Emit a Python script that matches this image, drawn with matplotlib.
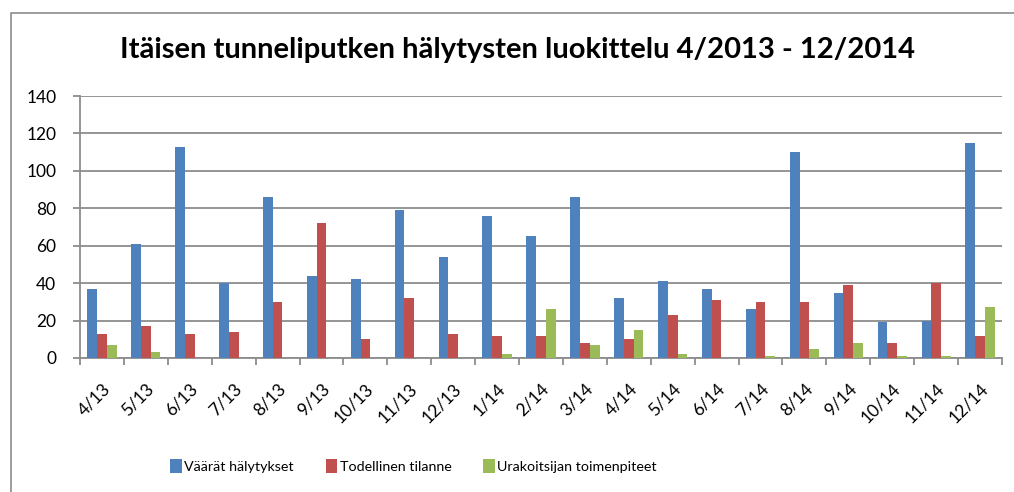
import matplotlib
matplotlib.use("Agg")
import matplotlib.pyplot as plt
import numpy as np
from matplotlib.lines import Line2D

categories = ["4/13", "5/13", "6/13", "7/13", "8/13", "9/13", "10/13", "11/13", "12/13",
              "1/14", "2/14", "3/14", "4/14", "5/14", "6/14", "7/14", "8/14", "9/14",
              "10/14", "11/14", "12/14"]
vaarat = [37, 61, 113, 40, 86, 44, 42, 79, 54, 76, 65, 86, 32, 41, 37, 26, 110, 35, 19, 20, 115]
todellinen = [13, 17, 13, 14, 30, 72, 10, 32, 13, 12, 12, 8, 10, 23, 31, 30, 30, 39, 8, 40, 12]
urakoitsija = [7, 3, 0, 0, 0, 0, 0, 0, 0, 2, 26, 7, 15, 2, 0, 1, 5, 8, 1, 1, 27]
series_names = ["Väärät hälytykset", "Todellinen tilanne", "Urakoitsijan toimenpiteet"]
yticks = [0, 20, 40, 60, 80, 100, 120, 140]

colors = ["#4F81BD", "#C0504D", "#9BBB59"]
axis_gray = "#8c8c8c"
plt.rcParams['font.family'] = ['Lato', 'DejaVu Sans']

fig = plt.figure(figsize=(10.14, 4.92), dpi=100)
W, H = 1014, 492
ax = fig.add_axes([80 / W, 1 - 358 / H, (1002 - 80) / W, (358 - 96) / H])

n = len(categories)
x = np.arange(n)
w = 1 / 4.5
for i, (vals, c, name) in enumerate(zip([vaarat, todellinen, urakoitsija], colors, series_names)):
    ax.bar(x + (i - 1) * w, vals, width=w, color=c, edgecolor="none", label=name, zorder=3)

ax.set_xlim(-0.5, n - 0.5)
ax.set_ylim(0, 140)
ax.set_yticks(yticks)
ax.set_yticklabels([str(v) for v in yticks], fontsize=12.5)
ax.yaxis.grid(True, color=axis_gray, linewidth=1.3, zorder=0)
ax.set_axisbelow(True)

ax.set_xticks(x)
ax.set_xticklabels(categories, rotation=45, ha="right", rotation_mode="anchor", fontsize=12.5)
ax.tick_params(axis="x", length=0, pad=16)
ax.set_xticks(np.arange(-0.5, n, 1), minor=True)
ax.tick_params(axis="x", which="minor", length=5, width=1.3, color=axis_gray, direction="out")
ax.tick_params(axis="y", length=5, width=1.3, color=axis_gray, direction="out", pad=12)

for s in ["top", "right"]:
    ax.spines[s].set_visible(False)
for s in ["left", "bottom"]:
    ax.spines[s].set_color(axis_gray)
    ax.spines[s].set_linewidth(1.3)

fig.text(518 / W, 1 - 50 / H, "Itäisen tunneliputken hälytysten luokittelu 4/2013 - 12/2014",
         ha="center", va="center", fontsize=21, fontweight="bold")

leg = fig.legend(loc="center left", bbox_to_anchor=(163 / W, 1 - 466 / H), ncol=3, frameon=False,
                 fontsize=10.3, handlelength=0.8, handleheight=1.1, columnspacing=2.2,
                 handletextpad=0.2, borderpad=0)

fig.lines.append(Line2D([10.5 / W, 10.5 / W, 1.0], [0.0, 1 - 12.5 / H, 1 - 12.5 / H],
                        transform=fig.transFigure, color=axis_gray, linewidth=1.2))

fig.savefig("out.png", dpi=100)
